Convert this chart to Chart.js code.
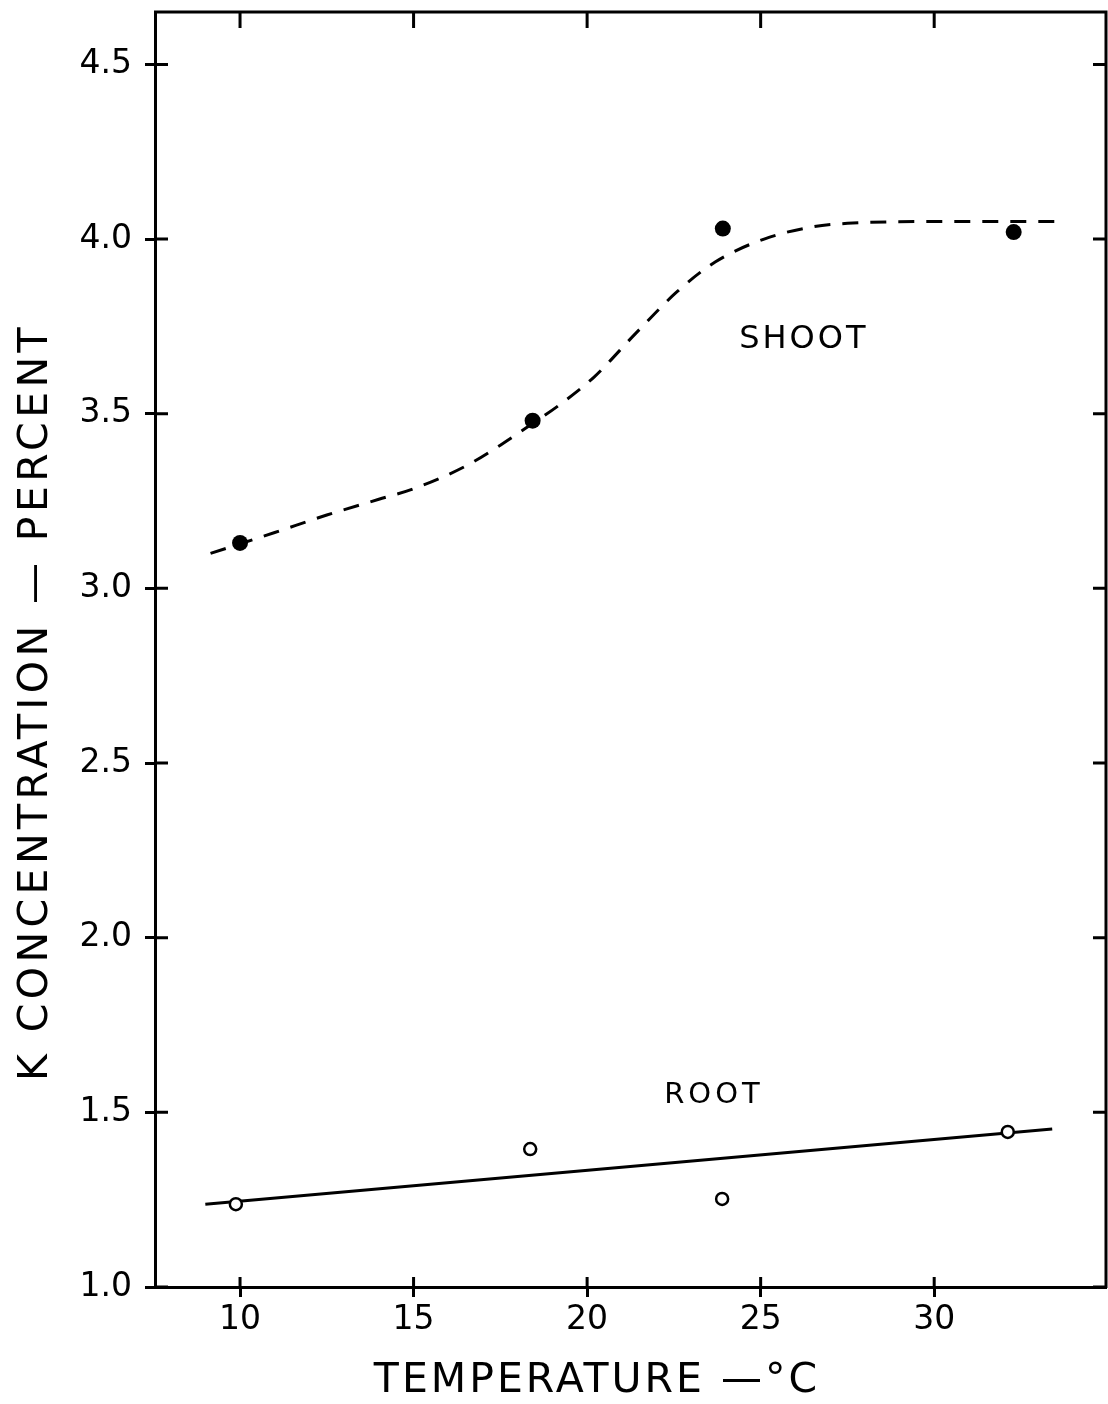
<!DOCTYPE html>
<html>
<head>
<meta charset="utf-8">
<script src="https://cdn.jsdelivr.net/npm/chart.js@4.4.1/dist/chart.umd.min.js"></script>
<style>
  body { margin: 0; background: #fff; }
  canvas { display: block; }
</style>
</head>
<body>
<canvas id="grafico" width="1108" height="1404"></canvas>
<script>
// temperaturas (°C) y concentraciones de K (%)
const tempShoot = [10.0, 18.43, 23.91, 32.29];
const kShoot = [3.13, 3.48, 4.03, 4.02];
const tempRoot = [9.88, 18.36, 23.89, 32.12];
const kRoot = [1.237, 1.395, 1.252, 1.444];

// curva a mano del tallo (trazo punteado)
const curvaShootX = [9.15, 11.0, 12.5, 14.0, 15.0, 16.5, 17.5, 18.4, 19.2, 20.2, 21.4, 22.6, 23.7, 25.1, 26.5, 27.5, 30.0, 33.75];
const curvaShootY = [3.10, 3.16, 3.21, 3.255, 3.285, 3.35, 3.41, 3.47, 3.525, 3.605, 3.73, 3.85, 3.935, 4.0, 4.035, 4.045, 4.05, 4.05];

// recta de la raiz
const rectaRootX = [9.0, 33.4];
const rectaRootY = [1.237, 1.452];

const ticksY = [1.0, 1.5, 2.0, 2.5, 3.0, 3.5, 4.0, 4.5];
const ticksX = [10, 15, 20, 25, 30];

const fuente = 'DejaVu Sans';

function pares(xs, ys) {
    return xs.map((x, i) => ({ x: x, y: ys[i] }));
}

// sin margen extra por las etiquetas de los extremos
function sinPadding(scale) {
    scale.paddingTop = 0;
    scale.paddingBottom = 0;
    scale.paddingLeft = 0;
    scale.paddingRight = 0;
}

// marco superior/derecho y marcas hacia adentro
const marco = {
    id: 'marco',
    afterDraw(chart) {
        const ctx = chart.ctx;
        const a = chart.chartArea;
        const x = chart.scales.x;
        const y = chart.scales.y;
        ctx.save();
        ctx.strokeStyle = '#000';
        ctx.lineWidth = 3;
        ctx.beginPath();
        ctx.moveTo(a.left - 1, a.top);
        ctx.lineTo(a.right, a.top);
        ctx.lineTo(a.right, a.bottom + 1);
        ctx.stroke();
        ctx.beginPath();
        x.ticks.forEach(t => {
            const px = x.getPixelForValue(t.value);
            ctx.moveTo(px, a.bottom);
            ctx.lineTo(px, a.bottom - 10);
            ctx.moveTo(px, a.top);
            ctx.lineTo(px, a.top + 16);
        });
        y.ticks.forEach(t => {
            const py = y.getPixelForValue(t.value);
            ctx.moveTo(a.left, py);
            ctx.lineTo(a.left + 13, py);
            ctx.moveTo(a.right, py);
            ctx.lineTo(a.right - 13, py);
        });
        ctx.stroke();
        ctx.restore();
    }
};

// titulos de ejes y rotulos de curvas
const textos = {
    id: 'textos',
    afterDraw(chart) {
        const ctx = chart.ctx;
        const x = chart.scales.x;
        const y = chart.scales.y;
        ctx.save();
        ctx.fillStyle = '#000';

        ctx.font = '41px "' + fuente + '"';
        ctx.letterSpacing = '3px';
        ctx.textAlign = 'center';
        ctx.textBaseline = 'alphabetic';
        ctx.fillText('TEMPERATURE —°C', 597, 1392);

        ctx.save();
        ctx.translate(47, 702);
        ctx.rotate(-Math.PI / 2);
        ctx.letterSpacing = '4.4px';
        ctx.fillText('K CONCENTRATION — PERCENT', 0, 0);
        ctx.restore();

        ctx.textAlign = 'left';
        ctx.font = '32px "' + fuente + '"';
        ctx.letterSpacing = '3px';
        ctx.fillText('SHOOT', x.getPixelForValue(24.38), y.getPixelForValue(3.687));
        ctx.font = '29px "' + fuente + '"';
        ctx.letterSpacing = '4px';
        ctx.fillText('ROOT', x.getPixelForValue(22.22), y.getPixelForValue(1.527));
        ctx.restore();
    }
};

let CanvasG = document.getElementById('grafico').getContext('2d');
let datos = {
    datasets: [
        {
            label: 'curva shoot',
            data: pares(curvaShootX, curvaShootY),
            showLine: true,
            borderColor: '#000',
            borderWidth: 3,
            borderDash: [16, 12],
            cubicInterpolationMode: 'monotone',
            pointRadius: 0,
            order: 4
        },
        {
            label: 'recta root',
            data: pares(rectaRootX, rectaRootY),
            showLine: true,
            borderColor: '#000',
            borderWidth: 3,
            pointRadius: 0,
            order: 3
        },
        {
            label: 'SHOOT',
            data: pares(tempShoot, kShoot),
            pointRadius: 8,
            pointBackgroundColor: '#000',
            pointBorderColor: '#000',
            pointBorderWidth: 0,
            order: 2
        },
        {
            label: 'ROOT',
            data: pares(tempRoot, kRoot),
            pointRadius: 6,
            pointBackgroundColor: '#fff',
            pointBorderColor: '#000',
            pointBorderWidth: 2.5,
            order: 1
        }
    ]
};
let opciones = {
    responsive: false,
    animation: false,
    devicePixelRatio: 1,
    layout: { autoPadding: false, padding: { top: 12, right: 2, left: 0, bottom: 0 } },
    plugins: {
        legend: { display: false },
        tooltip: { enabled: false }
    },
    scales: {
        x: {
            type: 'linear',
            min: 7.55,
            max: 34.95,
            afterFit(scale) { scale.height = 117; sinPadding(scale); },
            afterBuildTicks(scale) { scale.ticks = ticksX.map(v => ({ value: v })); },
            border: { color: '#000', width: 3 },
            grid: { drawOnChartArea: false, color: '#000', tickColor: '#000', tickLength: 10, tickWidth: 3 },
            ticks: {
                color: '#000',
                padding: 4,
                maxRotation: 0,
                autoSkip: false,
                font: { family: fuente, size: 33 },
                callback: v => String(v)
            }
        },
        y: {
            type: 'linear',
            min: 1.0,
            max: 4.65,
            afterFit(scale) { scale.width = 155; sinPadding(scale); },
            afterBuildTicks(scale) { scale.ticks = ticksY.map(v => ({ value: v })); },
            border: { color: '#000', width: 3 },
            grid: { drawOnChartArea: false, color: '#000', tickColor: '#000', tickLength: 10, tickWidth: 3 },
            ticks: {
                color: '#000',
                padding: 13,
                autoSkip: false,
                font: { family: fuente, size: 33 },
                callback: v => v.toFixed(1)
            }
        }
    }
};
let G1 = new Chart(CanvasG, {
    type: 'scatter',
    data: datos,
    options: opciones,
    plugins: [marco, textos]
});
</script>
</body>
</html>
